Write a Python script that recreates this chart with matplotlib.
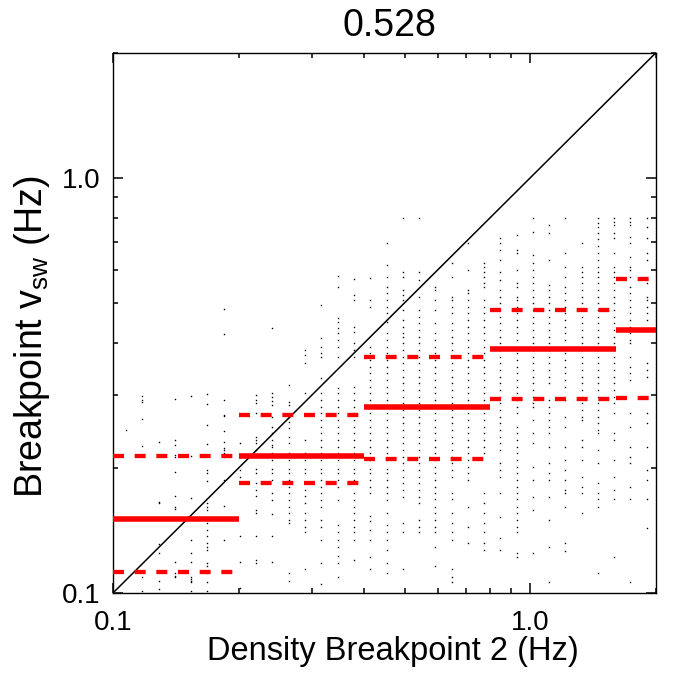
import matplotlib
matplotlib.use('Agg')
import matplotlib.pyplot as plt
from matplotlib.ticker import LogLocator, FixedLocator, FixedFormatter, NullFormatter

plt.rcParams['font.family'] = ['Liberation Sans', 'DejaVu Sans']
plt.rcParams['mathtext.fontset'] = 'custom'
plt.rcParams['mathtext.rm'] = 'Liberation Sans'
plt.rcParams['mathtext.it'] = 'Liberation Sans:italic'
plt.rcParams['lines.scale_dashes'] = False

# title value (correlation)
title_text = '0.528'

# x positions of the frequency columns of the scatter (Hz)
column_x = [0.1073, 0.1176, 0.1287, 0.1406, 0.1541, 0.1684, 0.1843, 0.2013,
            0.2206, 0.2410, 0.2643, 0.2887, 0.3159, 0.3451, 0.3783, 0.4134,
            0.4523, 0.4951, 0.5418, 0.5918, 0.6477, 0.7089, 0.7757, 0.8476,
            0.9271, 1.015, 1.1106, 1.2132, 1.3274, 1.4534, 1.5878, 1.737, 1.9055]

# breakpoint v_sw values seen in each column (Hz)
column_y = [
    [0.247],
    [0.298, 0.292, 0.289, 0.262, 0.226, 0.109, 0.101],
    [0.231, 0.166, 0.165, 0.131, 0.125, 0.107, 0.102],
    [0.293, 0.234, 0.227, 0.215, 0.213, 0.196, 0.171, 0.161, 0.159, 0.119, 0.112, 0.110, 0.109],
    [0.298, 0.214, 0.169, 0.134, 0.125, 0.119, 0.109, 0.108, 0.107, 0.106, 0.101],
    [0.302, 0.285, 0.254, 0.229, 0.198, 0.195, 0.186, 0.165, 0.161, 0.158, 0.147, 0.142, 0.137,
     0.132, 0.129, 0.127, 0.118, 0.116, 0.112, 0.106, 0.101],
    [0.483, 0.420, 0.292, 0.268, 0.267, 0.245, 0.231, 0.224, 0.221, 0.217, 0.212, 0.187, 0.162, 0.134],
    [0.230, 0.213, 0.198, 0.190, 0.137, 0.119, 0.103],
    [0.300, 0.292, 0.287, 0.271, 0.238, 0.234, 0.230, 0.221, 0.213, 0.199, 0.195, 0.184, 0.177,
     0.171, 0.158, 0.156, 0.137, 0.120, 0.118],
    [0.434, 0.303, 0.297, 0.290, 0.284, 0.265, 0.251, 0.243, 0.234, 0.227, 0.225, 0.217, 0.209,
     0.199, 0.195, 0.187, 0.174, 0.167, 0.155, 0.137, 0.119],
    [0.316, 0.289, 0.284, 0.265, 0.258, 0.250, 0.238, 0.230, 0.217, 0.209, 0.199, 0.195, 0.187,
     0.180, 0.174, 0.167, 0.161, 0.156, 0.150, 0.147, 0.112, 0.107],
    [0.385, 0.374, 0.358, 0.303, 0.234, 0.217, 0.209, 0.199, 0.195, 0.184, 0.177, 0.171, 0.165,
     0.156, 0.150, 0.144, 0.140, 0.114],
    [0.494, 0.412, 0.391, 0.379, 0.371, 0.329, 0.303, 0.292, 0.281, 0.271, 0.261, 0.251, 0.243,
     0.234, 0.225, 0.217, 0.209, 0.199, 0.195, 0.187, 0.180, 0.174, 0.167, 0.161, 0.150, 0.144,
     0.134, 0.118, 0.105],
    [0.580, 0.546, 0.460, 0.450, 0.435, 0.423, 0.407, 0.392, 0.371, 0.312, 0.303, 0.292, 0.281,
     0.271, 0.261, 0.251, 0.243, 0.234, 0.225, 0.217, 0.209, 0.199, 0.195, 0.187, 0.180, 0.167,
     0.146, 0.140, 0.134, 0.129, 0.123, 0.118, 0.109],
    [0.570, 0.522, 0.508, 0.437, 0.425, 0.400, 0.385, 0.371, 0.314, 0.303, 0.292, 0.281, 0.271,
     0.261, 0.251, 0.243, 0.234, 0.225, 0.217, 0.209, 0.199, 0.195, 0.187, 0.174, 0.167, 0.161,
     0.156, 0.150, 0.144, 0.140, 0.134, 0.120],
    [0.574, 0.508, 0.489, 0.392, 0.379, 0.364, 0.351, 0.339, 0.326, 0.314, 0.303, 0.292, 0.281,
     0.271, 0.261, 0.251, 0.243, 0.234, 0.225, 0.217, 0.209, 0.199, 0.195, 0.187, 0.180, 0.174,
     0.153, 0.149, 0.142, 0.134, 0.122, 0.114],
    [0.697, 0.617, 0.578, 0.546, 0.528, 0.508, 0.489, 0.473, 0.450, 0.423, 0.407, 0.392, 0.379,
     0.364, 0.351, 0.339, 0.326, 0.314, 0.303, 0.292, 0.281, 0.271, 0.261, 0.251, 0.243, 0.234,
     0.225, 0.217, 0.209, 0.199, 0.195, 0.187, 0.180, 0.174, 0.167, 0.156, 0.146, 0.140, 0.134,
     0.127, 0.118, 0.112],
    [0.801, 0.594, 0.577, 0.537, 0.522, 0.508, 0.481, 0.455, 0.438, 0.423, 0.414, 0.400, 0.385,
     0.371, 0.358, 0.345, 0.332, 0.321, 0.309, 0.297, 0.287, 0.276, 0.266, 0.257, 0.247, 0.238,
     0.230, 0.221, 0.213, 0.206, 0.198, 0.190, 0.184, 0.177, 0.170, 0.147, 0.140, 0.114],
    [0.801, 0.594, 0.568, 0.517, 0.481, 0.463, 0.447, 0.430, 0.414, 0.400, 0.385, 0.371, 0.358,
     0.345, 0.332, 0.321, 0.309, 0.297, 0.287, 0.276, 0.266, 0.257, 0.247, 0.238, 0.230, 0.221,
     0.213, 0.206, 0.198, 0.190, 0.184, 0.177, 0.170, 0.165, 0.150, 0.144, 0.140],
    [0.546, 0.537, 0.508, 0.481, 0.447, 0.423, 0.407, 0.392, 0.379, 0.364, 0.350, 0.339, 0.326,
     0.314, 0.303, 0.292, 0.281, 0.271, 0.261, 0.251, 0.243, 0.234, 0.225, 0.217, 0.209, 0.201,
     0.195, 0.187, 0.180, 0.174, 0.168, 0.161, 0.156, 0.150, 0.144, 0.140, 0.129, 0.116],
    [0.624, 0.577, 0.517, 0.508, 0.489, 0.473, 0.447, 0.430, 0.414, 0.400, 0.385, 0.371, 0.358,
     0.345, 0.332, 0.321, 0.309, 0.297, 0.287, 0.276, 0.266, 0.257, 0.247, 0.238, 0.230, 0.221,
     0.213, 0.206, 0.198, 0.190, 0.174, 0.168, 0.156, 0.147, 0.140, 0.134, 0.114, 0.109, 0.106],
    [0.697, 0.600, 0.537, 0.528, 0.508, 0.489, 0.473, 0.455, 0.438, 0.423, 0.407, 0.392, 0.379,
     0.364, 0.350, 0.339, 0.326, 0.314, 0.303, 0.292, 0.281, 0.271, 0.261, 0.251, 0.243, 0.234,
     0.225, 0.217, 0.209, 0.201, 0.195, 0.187, 0.161, 0.144, 0.132],
    [0.624, 0.610, 0.594, 0.577, 0.558, 0.546, 0.508, 0.489, 0.473, 0.455, 0.438, 0.423, 0.407,
     0.392, 0.379, 0.364, 0.350, 0.339, 0.326, 0.314, 0.303, 0.292, 0.281, 0.271, 0.261, 0.251,
     0.243, 0.234, 0.225, 0.217, 0.174, 0.165, 0.156, 0.147, 0.140, 0.132, 0.127],
    [0.717, 0.697, 0.671, 0.635, 0.594, 0.568, 0.537, 0.517, 0.500, 0.481, 0.463, 0.447, 0.430,
     0.414, 0.400, 0.385, 0.371, 0.358, 0.345, 0.332, 0.321, 0.309, 0.297, 0.287, 0.276, 0.266,
     0.257, 0.247, 0.238, 0.230, 0.221, 0.206, 0.198, 0.190, 0.174, 0.152, 0.136, 0.127],
    [0.729, 0.671, 0.660, 0.600, 0.558, 0.546, 0.517, 0.508, 0.489, 0.473, 0.455, 0.438, 0.423,
     0.407, 0.392, 0.379, 0.364, 0.350, 0.339, 0.326, 0.314, 0.303, 0.292, 0.281, 0.271, 0.251,
     0.243, 0.234, 0.225, 0.217, 0.209, 0.201, 0.195, 0.187, 0.180, 0.174, 0.168, 0.161, 0.156,
     0.150, 0.144, 0.140, 0.125, 0.122],
    [0.801, 0.741, 0.652, 0.624, 0.600, 0.577, 0.558, 0.537, 0.517, 0.500, 0.481, 0.463, 0.447,
     0.430, 0.414, 0.400, 0.385, 0.371, 0.358, 0.345, 0.332, 0.321, 0.309, 0.297, 0.287, 0.281,
     0.261, 0.243, 0.230, 0.201, 0.187, 0.170, 0.158, 0.125],
    [0.770, 0.737, 0.635, 0.552, 0.537, 0.517, 0.500, 0.481, 0.463, 0.447, 0.430, 0.414, 0.400,
     0.385, 0.371, 0.358, 0.345, 0.332, 0.321, 0.292, 0.281, 0.271, 0.261, 0.251, 0.243, 0.225,
     0.206, 0.195, 0.187, 0.170, 0.150, 0.129, 0.106],
    [0.801, 0.660, 0.610, 0.577, 0.546, 0.528, 0.508, 0.489, 0.473, 0.455, 0.438, 0.423, 0.407,
     0.392, 0.379, 0.364, 0.350, 0.339, 0.326, 0.314, 0.292, 0.266, 0.251, 0.225, 0.209, 0.198,
     0.187, 0.177, 0.174, 0.161, 0.132, 0.126],
    [0.697, 0.610, 0.594, 0.577, 0.558, 0.537, 0.517, 0.500, 0.481, 0.463, 0.447, 0.430, 0.414,
     0.400, 0.385, 0.371, 0.358, 0.345, 0.332, 0.321, 0.309, 0.297, 0.287, 0.276, 0.266, 0.261,
     0.234, 0.225, 0.209, 0.190, 0.180, 0.174, 0.156],
    [0.801, 0.777, 0.762, 0.737, 0.710, 0.683, 0.660, 0.635, 0.610, 0.594, 0.577, 0.558, 0.537,
     0.517, 0.500, 0.481, 0.463, 0.447, 0.430, 0.414, 0.400, 0.385, 0.371, 0.358, 0.345, 0.332,
     0.321, 0.309, 0.297, 0.287, 0.276, 0.266, 0.257, 0.247, 0.243, 0.221, 0.206, 0.184, 0.174,
     0.168, 0.161, 0.112],
    [0.801, 0.783, 0.770, 0.737, 0.717, 0.660, 0.610, 0.594, 0.577, 0.558, 0.537, 0.517, 0.500,
     0.481, 0.463, 0.447, 0.430, 0.414, 0.400, 0.385, 0.371, 0.358, 0.345, 0.332, 0.321, 0.309,
     0.297, 0.287, 0.271, 0.243, 0.234, 0.209, 0.190, 0.177, 0.168, 0.122],
    [0.801, 0.783, 0.770, 0.721, 0.697, 0.645, 0.610, 0.600, 0.577, 0.546, 0.528, 0.508, 0.489,
     0.473, 0.455, 0.438, 0.423, 0.407, 0.400, 0.371, 0.350, 0.339, 0.326, 0.271, 0.251, 0.225,
     0.213, 0.206, 0.180, 0.168, 0.106],
    [0.801, 0.762, 0.717, 0.660, 0.635, 0.558, 0.517, 0.508, 0.489, 0.473, 0.455, 0.358, 0.345,
     0.332, 0.297, 0.271, 0.257, 0.225, 0.198, 0.187, 0.168, 0.143],
]

# binned statistics: bin edges, median and quartiles (Hz)
bin_edges = [0.1, 0.2, 0.4, 0.8, 1.6, 3.2]
bin_median = [0.1505, 0.214, 0.281, 0.387, 0.430]
bin_q_low = [0.1124, 0.184, 0.210, 0.293, 0.2945]
bin_q_high = [0.2142, 0.2685, 0.3705, 0.479, 0.571]

fig = plt.figure(figsize=(6.75, 6.73), dpi=100)
ax = fig.add_axes([0.1674, 0.1189, 0.8044, 0.8028])

# scatter of individual events
xs = []
ys = []
for x, col in zip(column_x, column_y):
    for y in col:
        xs.append(x)
        ys.append(y)
ax.plot(xs, ys, linestyle='none', marker='s', ms=1.0, mew=0, color='black', zorder=2)

# one-to-one line
ax.plot([0.1, 2.0], [0.1, 2.0], color='black', lw=1.1, zorder=3)

# medians (solid) and quartiles (dashed) per bin
for i in range(len(bin_median)):
    lo, hi = bin_edges[i], bin_edges[i + 1]
    ax.plot([lo, hi], [bin_median[i], bin_median[i]], color='red', lw=4.0,
            solid_capstyle='butt', zorder=4)
    for q in (bin_q_low[i], bin_q_high[i]):
        ax.plot([lo, hi], [q, q], color='red', lw=3.1, dashes=(7.9, 7.7),
                dash_capstyle='butt', zorder=4)

ax.set_xscale('log')
ax.set_yscale('log')
ax.set_xlim(0.1, 2.0)
ax.set_ylim(0.1, 2.0)

for axis in (ax.xaxis, ax.yaxis):
    axis.set_major_locator(FixedLocator([0.1, 1.0]))
    axis.set_major_formatter(FixedFormatter(['0.1', '1.0']))
    axis.set_minor_locator(LogLocator(base=10, subs=range(2, 10)))
    axis.set_minor_formatter(NullFormatter())

ax.tick_params(which='both', direction='in', top=True, right=True, labelsize=20)
ax.tick_params(which='major', length=7.5, width=1.1)
ax.tick_params(which='minor', length=3.8, width=1.1)
ax.tick_params(axis='x', which='major', pad=12.5)
ax.tick_params(axis='y', which='major', pad=9)
for s in ax.spines.values():
    s.set_linewidth(1.0)

ax.set_title(title_text, fontsize=27, pad=12, x=0.51)
ax.set_xlabel('Density Breakpoint 2 (Hz)', fontsize=23.5)
ax.xaxis.set_label_coords(0.515, -0.08)
ax.set_ylabel(r'Breakpoint v$_\mathrm{sw}$ (Hz)', fontsize=27)
ax.yaxis.set_label_coords(-0.112, 0.475)

fig.savefig('out.png', dpi=100)
